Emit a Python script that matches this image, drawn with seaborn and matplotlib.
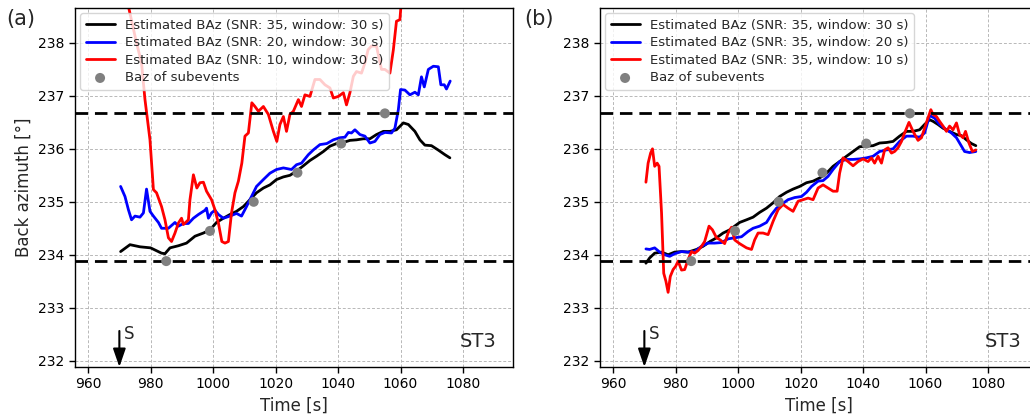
import numpy as np
import pandas as pd
import matplotlib
matplotlib.use("Agg")
import matplotlib.pyplot as plt
import seaborn as sns

# ---------------- data ----------------
# Panel (a)
a_black_t = [970.4, 973.4, 976.6, 980.0, 983.5, 984.6, 986.2, 988.9, 991.5, 994.2, 996.9, 999.0, 1001.1, 1003.3,
             1005.4, 1007.5, 1009.7, 1011.8, 1013.9, 1016.1, 1018.2, 1020.3, 1022.5, 1024.6, 1026.7, 1028.9, 1031.0,
             1033.1, 1035.3, 1037.4, 1039.5, 1041.7, 1043.8, 1045.9, 1048.1, 1050.2, 1052.3, 1054.5, 1056.6, 1058.7,
             1060.9, 1062.5, 1064.6, 1066.2, 1067.8, 1069.9, 1072.0, 1074.2, 1075.8]
a_black_v = [234.06, 234.19, 234.15, 234.13, 234.03, 234.02, 234.13, 234.17, 234.22, 234.35, 234.41, 234.47, 234.61,
             234.69, 234.76, 234.82, 234.91, 235.04, 235.17, 235.26, 235.32, 235.42, 235.47, 235.50, 235.58, 235.68,
             235.78, 235.86, 235.95, 236.05, 236.10, 236.12, 236.16, 236.17, 236.19, 236.19, 236.27, 236.33, 236.33,
             236.36, 236.49, 236.46, 236.33, 236.17, 236.07, 236.06, 235.98, 235.89, 235.83]

a_blue_t = [970.4, 971.8, 972.9, 973.9, 975.0, 976.6, 977.7, 978.7, 979.8, 980.9, 982.5, 983.5, 985.7, 987.8, 988.9,
            990.5, 992.1, 993.7, 995.3, 997.4, 997.9, 998.5, 999.5, 1000.6, 1001.7, 1003.3, 1005.4, 1007.5, 1009.1,
            1010.7, 1012.3, 1013.9, 1016.1, 1018.2, 1020.3, 1022.5, 1025.1, 1026.7, 1028.3, 1030.5, 1032.1, 1034.2,
            1036.4, 1038.5, 1040.6, 1042.2, 1043.3, 1044.3, 1045.4, 1047.0, 1048.6, 1050.2, 1051.8, 1053.4, 1055.0,
            1057.1, 1058.2, 1059.3, 1060.0, 1061.4, 1063.0, 1064.6, 1065.7, 1066.7, 1067.6, 1068.9, 1070.5, 1072.1,
            1072.9, 1074.0, 1074.7, 1075.9]
a_blue_v = [235.29, 235.10, 234.85, 234.66, 234.73, 234.71, 234.79, 235.24, 234.82, 234.73, 234.61, 234.50, 234.50,
            234.61, 234.54, 234.59, 234.59, 234.69, 234.76, 234.84, 234.88, 234.69, 234.79, 234.84, 234.76, 234.69,
            234.73, 234.78, 234.73, 234.91, 235.10, 235.29, 235.42, 235.54, 235.61, 235.64, 235.61, 235.70, 235.73,
            235.89, 235.98, 236.08, 236.10, 236.17, 236.21, 236.22, 236.31, 236.30, 236.36, 236.27, 236.24, 236.11,
            236.14, 236.27, 236.31, 236.30, 236.39, 236.74, 237.12, 237.11, 237.02, 237.07, 237.02, 237.36, 237.17,
            237.50, 237.56, 237.55, 237.21, 237.21, 237.13, 237.28]

a_red_t = [972.9, 975.5, 977.1, 978.2, 979.8, 980.9, 981.9, 983.5, 984.6, 985.7, 986.7, 987.8, 988.9, 989.9, 990.5,
           992.1, 992.6, 993.7, 994.8, 995.8, 996.9, 997.9, 999.5, 1000.6, 1001.7, 1002.8, 1003.8, 1004.9, 1005.9,
           1007.0, 1008.1, 1009.2, 1010.2, 1011.3, 1012.4, 1013.4, 1014.5, 1016.1, 1017.7, 1019.3, 1020.4, 1021.4,
           1022.5, 1023.5, 1024.6, 1025.7, 1027.3, 1028.3, 1029.4, 1031.0, 1032.6, 1034.2, 1035.8, 1037.4, 1038.5,
           1040.1, 1041.7, 1042.7, 1043.8, 1044.9, 1045.9, 1047.5, 1048.6, 1049.6, 1050.7, 1052.3, 1053.9, 1055.0,
           1056.6, 1057.7, 1058.7, 1059.8, 1060.3]
a_red_v = [238.69, 238.00, 237.62, 236.93, 236.17, 235.23, 235.17, 234.91, 234.66, 234.32, 234.25, 234.41, 234.60,
           234.69, 234.57, 234.66, 235.04, 235.51, 235.26, 235.36, 235.37, 235.20, 235.04, 234.85, 234.60, 234.25,
           234.22, 234.25, 234.79, 235.17, 235.39, 235.73, 236.24, 236.30, 236.87, 236.80, 236.71, 236.80, 236.65,
           236.33, 236.14, 236.46, 236.61, 236.33, 236.65, 236.71, 236.93, 236.80, 237.02, 236.99, 237.31, 237.31,
           237.21, 237.15, 236.96, 236.99, 237.06, 236.83, 237.06, 237.37, 237.46, 237.43, 237.62, 237.87, 237.94,
           237.94, 237.50, 237.50, 237.43, 237.87, 238.41, 238.44, 238.82]

# Panel (b)
b_black_t = [970.5, 971.7, 973.3, 975.5, 977.6, 979.7, 981.9, 984.0, 986.7, 988.8, 991.0, 993.1, 995.2, 997.3, 998.9,
             1000.5, 1002.7, 1004.8, 1006.9, 1009.1, 1011.2, 1013.3, 1015.5, 1017.6, 1019.7, 1021.9, 1024.0, 1026.1,
             1028.3, 1030.4, 1032.5, 1034.7, 1036.8, 1038.9, 1041.1, 1043.2, 1045.3, 1047.5, 1049.6, 1051.7, 1053.9,
             1056.0, 1058.1, 1059.7, 1061.3, 1062.4, 1064.0, 1065.6, 1067.7, 1069.9, 1071.5, 1073.1, 1074.7, 1076.1]
b_black_v = [233.84, 233.94, 234.03, 234.05, 234.00, 234.05, 234.06, 234.05, 234.10, 234.16, 234.25, 234.32, 234.41,
             234.47, 234.54, 234.61, 234.66, 234.71, 234.80, 234.88, 234.98, 235.10, 235.18, 235.24, 235.29, 235.36,
             235.39, 235.45, 235.54, 235.67, 235.76, 235.86, 235.95, 236.04, 236.05, 236.06, 236.11, 236.12, 236.14,
             236.24, 236.33, 236.33, 236.36, 236.46, 236.55, 236.52, 236.46, 236.39, 236.33, 236.27, 236.25, 236.17,
             236.10, 236.06]

b_blue_t = [970.5, 971.7, 973.3, 974.9, 976.5, 978.1, 979.7, 981.9, 984.0, 986.1, 988.3, 990.4, 992.5, 994.7, 996.8,
            998.9, 1001.1, 1003.2, 1004.8, 1006.9, 1009.1, 1010.7, 1012.3, 1013.9, 1016.0, 1018.1, 1020.3, 1021.9,
            1023.5, 1025.6, 1027.2, 1028.8, 1030.4, 1032.5, 1034.7, 1036.8, 1038.9, 1041.1, 1043.2, 1045.3, 1047.5,
            1049.6, 1051.7, 1053.9, 1056.0, 1058.1, 1059.7, 1061.3, 1062.9, 1064.5, 1066.7, 1068.3, 1069.9, 1071.5,
            1072.5, 1074.1, 1076.1]
b_blue_v = [234.11, 234.10, 234.13, 234.05, 234.00, 233.97, 234.02, 234.06, 234.05, 234.06, 234.16, 234.22, 234.22,
            234.23, 234.30, 234.32, 234.34, 234.44, 234.50, 234.54, 234.61, 234.76, 234.88, 234.95, 235.04, 235.08,
            235.10, 235.18, 235.29, 235.39, 235.40, 235.48, 235.61, 235.76, 235.80, 235.80, 235.81, 235.83, 235.86,
            235.95, 235.98, 236.00, 236.14, 236.24, 236.24, 236.22, 236.30, 236.63, 236.58, 236.46, 236.36, 236.30,
            236.21, 236.05, 235.95, 235.93, 235.95]

b_red_t = [970.5, 971.2, 972.0, 972.6, 973.3, 974.1, 974.7, 975.5, 976.2, 976.9, 977.6, 978.3, 979.2, 980.0, 980.8,
           981.9, 982.9, 984.0, 985.1, 986.1, 987.2, 988.3, 989.3, 990.7, 991.8, 993.1, 994.3, 995.7, 996.8, 997.9,
           998.9, 1000.5, 1002.7, 1004.3, 1005.3, 1006.4, 1008.0, 1009.6, 1011.2, 1012.8, 1014.4, 1016.0, 1017.6,
           1019.2, 1020.8, 1022.4, 1024.0, 1025.6, 1027.2, 1028.8, 1030.4, 1031.7, 1032.5, 1033.6, 1035.2, 1036.8,
           1038.4, 1040.0, 1041.6, 1042.7, 1043.7, 1044.8, 1045.9, 1046.9, 1048.0, 1049.1, 1050.1, 1051.2, 1052.3,
           1053.3, 1054.7, 1056.0, 1057.6, 1058.7, 1059.7, 1060.6, 1061.7, 1062.4, 1063.5, 1064.5, 1065.6, 1066.7,
           1067.7, 1068.8, 1069.9, 1070.9, 1072.0, 1072.8, 1073.9, 1075.0, 1076.1]
b_red_v = [235.37, 235.73, 235.92, 236.00, 235.67, 235.73, 235.67, 234.79, 233.65, 233.50, 233.29, 233.59, 233.72,
           233.78, 233.88, 233.71, 233.72, 233.91, 234.06, 234.03, 234.08, 234.16, 234.25, 234.54, 234.47, 234.32,
           234.28, 234.21, 234.41, 234.52, 234.28, 234.21, 234.13, 234.10, 234.28, 234.41, 234.41, 234.38, 234.63,
           234.85, 234.95, 234.88, 234.82, 235.01, 235.04, 235.07, 235.04, 235.26, 235.32, 235.26, 235.20, 235.20,
           235.54, 235.83, 235.76, 235.68, 235.76, 235.81, 235.76, 235.83, 235.73, 235.86, 235.73, 235.98, 236.02,
           235.92, 235.95, 236.02, 236.14, 236.30, 236.50, 236.33, 236.16, 236.21, 236.39, 236.55, 236.74, 236.65,
           236.61, 236.52, 236.43, 236.33, 236.43, 236.36, 236.49, 236.27, 236.21, 236.33, 236.11, 235.95, 235.98]

sub_t = [985, 999, 1013, 1027, 1041, 1055]
sub_v = [233.88, 234.45, 235.00, 235.55, 236.10, 236.67]

baz_bounds = [236.67, 233.88]
s_arrival = 970

labels_a = ["Estimated BAz (SNR: 35, window: 30 s)",
            "Estimated BAz (SNR: 20, window: 30 s)",
            "Estimated BAz (SNR: 10, window: 30 s)"]
labels_b = ["Estimated BAz (SNR: 35, window: 30 s)",
            "Estimated BAz (SNR: 35, window: 20 s)",
            "Estimated BAz (SNR: 35, window: 10 s)"]
sub_label = "Baz of subevents"
station = "ST3"
xticks = [960, 980, 1000, 1020, 1040, 1060, 1080]
yticks = [232, 233, 234, 235, 236, 237, 238]

# ---------------- style ----------------
sns.set_style("ticks")
plt.rcParams['font.family'] = ['DejaVu Sans']
plt.rcParams['xtick.labelsize'] = 10
plt.rcParams['ytick.labelsize'] = 10

fig = plt.figure(figsize=(10.3, 4.18), dpi=100)
W, H = 1030, 418
ax_a = fig.add_axes([75 / W, 51 / H, 438 / W, 359 / H])
ax_b = fig.add_axes([600 / W, 51 / H, 438 / W, 359 / H])

colors = ["black", "blue", "red"]

def draw(ax, series, labels, panel):
    for (t, v), lab, c in zip(series, labels, colors):
        sns.lineplot(x=t, y=v, ax=ax, color=c, lw=2, label=lab, sort=False, estimator=None)
    for yb in baz_bounds:
        ax.axhline(yb, color="black", lw=2, ls=(0, (4.5, 2.5)), zorder=3)
    sns.scatterplot(x=sub_t, y=sub_v, ax=ax, color="gray", s=52, edgecolor="none",
                    label=sub_label, zorder=4)
    ax.set_xlim(955.8, 1096)
    ax.set_ylim(231.88, 238.66)
    ax.set_xticks(xticks)
    ax.set_yticks(yticks)
    ax.grid(True, color="#b8b8b8", lw=0.7, ls=(0, (3, 2)))
    for sp in ax.spines.values():
        sp.set_visible(True)
        sp.set_color("black")
        sp.set_linewidth(1.0)
    ax.tick_params(direction="out", length=4, width=1, colors="black")
    ax.set_xlabel("Time [s]", fontsize=12)
    ax.set_ylabel("")
    ax.annotate("", xy=(s_arrival, 231.88), xytext=(s_arrival, 232.56),
                arrowprops=dict(arrowstyle="-|>,head_width=0.38,head_length=1.1",
                                color="black", lw=1.5, shrinkA=0, shrinkB=0), zorder=5)
    ax.text(s_arrival + 1.4, 232.5, "S", fontsize=12, ha="left", va="center")
    ax.text(0.963, 0.07, station, transform=ax.transAxes, fontsize=14, ha="right", va="center")
    ax.legend(loc="upper left", fontsize=9.5, framealpha=0.8, borderaxespad=0.4,
              handlelength=2.2, labelspacing=0.35, edgecolor="#cccccc")
    fig.text(panel[1], 0.955, panel[0], fontsize=15, ha="left", va="center")

draw(ax_a, [(a_black_t, a_black_v), (a_blue_t, a_blue_v), (a_red_t, a_red_v)], labels_a, ("(a)", 0.006))
draw(ax_b, [(b_black_t, b_black_v), (b_blue_t, b_blue_v), (b_red_t, b_red_v)], labels_b, ("(b)", 0.509))
ax_a.set_ylabel("Back azimuth [°]", fontsize=12)

fig.savefig("out.png", dpi=100)
